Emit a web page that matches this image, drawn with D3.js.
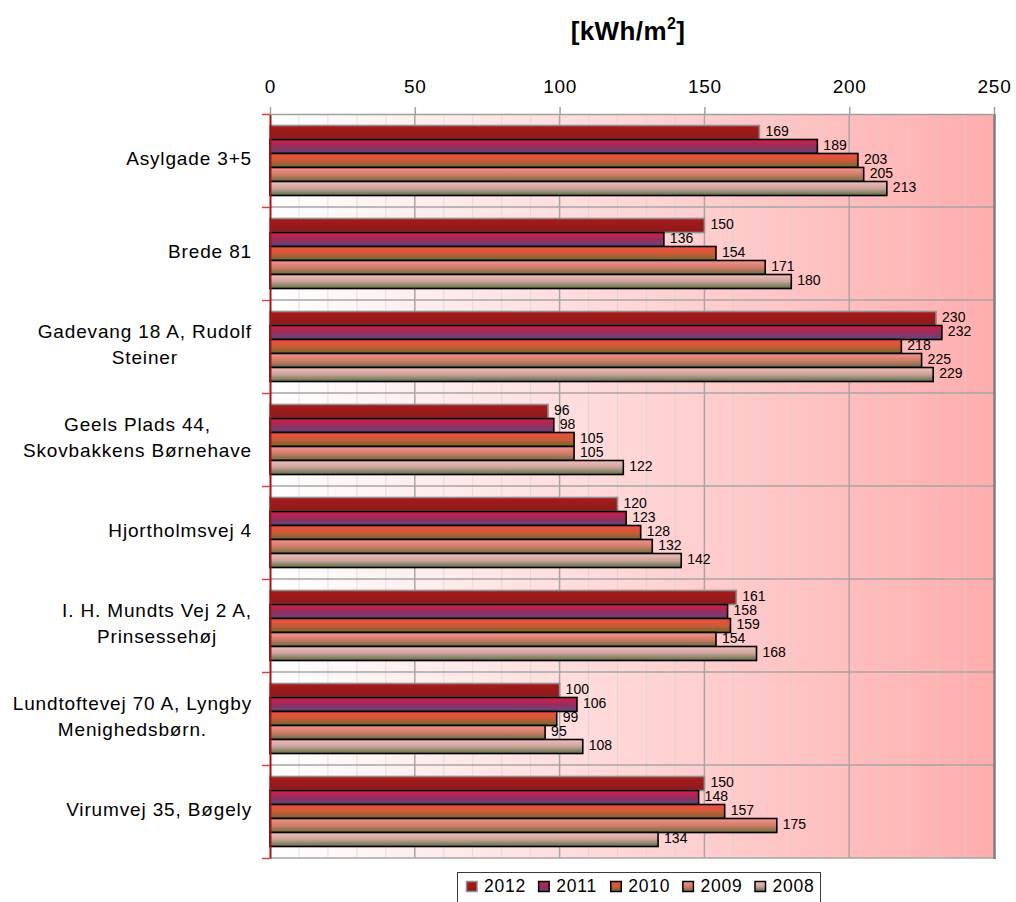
<!DOCTYPE html>
<html>
<head>
<meta charset="utf-8">
<script src="https://cdn.jsdelivr.net/npm/d3@7"></script>
<style>
  body { margin: 0; background: #ffffff; }
  svg { display: block; font-family: "Liberation Sans", Arial, Helvetica, sans-serif; }
</style>
</head>
<body>
<svg id="chart" width="1016" height="902"></svg>
<script>
// Buildings (label lines), newest year first as in the legend
const categories = [
  ["Asylgade 3+5"],
  ["Brede 81"],
  ["Gadevang 18 A, Rudolf", "Steiner"],
  ["Geels Plads 44,", "Skovbakkens Børnehave"],
  ["Hjortholmsvej 4"],
  ["I. H. Mundts Vej 2 A,", "Prinsessehøj"],
  ["Lundtoftevej 70 A, Lyngby", "Menighedsbørn."],
  ["Virumvej 35, Bøgely"]
];
const years = ["2012", "2011", "2010", "2009", "2008"];
const values2012 = [169, 150, 230, 96, 120, 161, 100, 150];
const values2011 = [189, 136, 232, 98, 123, 158, 106, 148];
const values2010 = [203, 154, 218, 105, 128, 159, 99, 157];
const values2009 = [205, 171, 225, 105, 132, 154, 95, 175];
const values2008 = [213, 180, 229, 122, 142, 168, 108, 134];
const xTicks = [0, 50, 100, 150, 200, 250];
const unitLabel = "[kWh/m";
const unitSup = "2";

const seriesValues = { "2012": values2012, "2011": values2011, "2010": values2010, "2009": values2009, "2008": values2008 };

// Gradient stops per year (top to bottom of each bar)
const barStops = {
  "2012": [["0", "#a8191a"], ["1", "#8b1b1c"]],
  "2011": [["0", "#d21f47"], ["0.5", "#9a2c5c"], ["1", "#5a4a7e"]],
  "2010": [["0", "#f44e3e"], ["0.5", "#cc5a38"], ["1", "#6b6a2c"]],
  "2009": [["0", "#f6958b"], ["0.5", "#cf7b6a"], ["1", "#6a6e3c"]],
  "2008": [["0", "#f5c0bc"], ["0.5", "#c9a29a"], ["1", "#5c6e44"]]
};
const barStroke = { "2012": "#8f8f8f", "2011": "#000", "2010": "#000", "2009": "#000", "2008": "#000" };

const svg = d3.select("#chart");
const defs = svg.append("defs");

const plot = { left: 270, right: 994, top: 114, bottom: 858 };

const x = d3.scaleLinear().domain([0, 250]).range([plot.left, plot.right]);
const y0 = d3.scaleBand().domain(d3.range(categories.length))
  .range([plot.top, plot.bottom]).paddingInner(0.247).paddingOuter(0.1235);
const y1 = d3.scaleBand().domain(years).range([0, y0.bandwidth()]);
const yEdge = d3.scaleLinear().domain([0, categories.length]).range([plot.top, plot.bottom]);

// Plot background: white to pink, left to right
const bg = defs.append("linearGradient").attr("id", "bgGrad")
  .attr("x1", 0).attr("y1", 0).attr("x2", 1).attr("y2", 0);
bg.append("stop").attr("offset", 0).attr("stop-color", "#ffffff");
bg.append("stop").attr("offset", 1).attr("stop-color", "#ffadad");

years.forEach(yr => {
  const g = defs.append("linearGradient").attr("id", "bar" + yr)
    .attr("x1", 0).attr("y1", 0).attr("x2", 0).attr("y2", 1);
  barStops[yr].forEach(s => g.append("stop").attr("offset", s[0]).attr("stop-color", s[1]));
});

svg.append("rect")
  .attr("x", plot.left).attr("y", plot.top)
  .attr("width", plot.right - plot.left).attr("height", plot.bottom - plot.top)
  .attr("fill", "url(#bgGrad)");

// Minor vertical gridlines every 10
const minor = d3.range(10, 250, 10).filter(v => v % 50 !== 0);
svg.append("g").selectAll("line").data(minor).join("line")
  .attr("x1", d => x(d)).attr("x2", d => x(d))
  .attr("y1", plot.top).attr("y2", plot.bottom)
  .attr("stroke", "#d2d2d2").attr("stroke-opacity", 0.65).attr("stroke-width", 1);

// Major vertical gridlines
svg.append("g").selectAll("line").data(xTicks.filter(v => v > 0 && v < 250)).join("line")
  .attr("x1", d => x(d)).attr("x2", d => x(d))
  .attr("y1", plot.top).attr("y2", plot.bottom)
  .attr("stroke", "#a6a6a6").attr("stroke-width", 1.5);

// Horizontal lines at category boundaries
svg.append("g").selectAll("line").data(d3.range(1, categories.length + 1)).join("line")
  .attr("x1", plot.left).attr("x2", plot.right)
  .attr("y1", d => yEdge(d)).attr("y2", d => yEdge(d))
  .attr("stroke", "#a6a6a6").attr("stroke-width", 1.5);

// Right frame edge
svg.append("line")
  .attr("x1", plot.right + 0.5).attr("x2", plot.right + 0.5)
  .attr("y1", plot.top).attr("y2", plot.bottom + 1)
  .attr("stroke", "#7f7f7f").attr("stroke-width", 2.5);

// Bars
const groups = svg.append("g").selectAll("g").data(categories).join("g")
  .attr("transform", (d, i) => `translate(0,${y0(i)})`);

groups.selectAll("rect")
  .data((d, i) => years.map(yr => ({ yr, v: seriesValues[yr][i] })))
  .join("rect")
  .attr("x", x(0))
  .attr("y", d => y1(d.yr))
  .attr("width", d => x(d.v) - x(0))
  .attr("height", y1.bandwidth())
  .attr("fill", d => `url(#bar${d.yr})`)
  .attr("stroke", d => barStroke[d.yr])
  .attr("stroke-width", 1.6);

// Left axis with ticks at category boundaries
const leftAxis = svg.append("g")
  .attr("transform", `translate(${plot.left},0)`)
  .call(d3.axisLeft(yEdge).tickValues(d3.range(categories.length + 1)).tickSize(8).tickSizeOuter(0).tickFormat(""));
leftAxis.select(".domain").attr("stroke", "#a31515").attr("stroke-width", 2);
leftAxis.selectAll(".tick line").attr("stroke", "#e03a3a").attr("stroke-width", 1.5);

// Top value axis
const topAxis = svg.append("g")
  .attr("transform", `translate(0,${plot.top})`)
  .call(d3.axisTop(x).tickValues(xTicks).tickSize(7).tickSizeOuter(0).tickPadding(14));
topAxis.select(".domain").attr("stroke", "#a0a0a0").attr("stroke-width", 1.5);
topAxis.selectAll(".tick line").attr("stroke", "#a0a0a0").attr("stroke-width", 1.5);
topAxis.selectAll(".tick text")
  .attr("fill", "#000")
  .style("font-family", '"Liberation Sans", Arial, sans-serif')
  .style("font-size", "19px")
  .style("letter-spacing", "0.7px");

// Value labels
groups.selectAll("text.val")
  .data((d, i) => years.map(yr => ({ yr, v: seriesValues[yr][i] })))
  .join("text")
  .attr("class", "val")
  .attr("x", d => x(d.v) + 6)
  .attr("y", d => y1(d.yr) + y1.bandwidth() / 2 + 3.5)
  .attr("font-size", "14px")
  .attr("fill", "#000")
  .text(d => d.v);

// Category labels: block right-aligned to the axis, lines centred within it
const labelRight = 252;
const lineGap = 26.7;
categories.forEach((lines, i) => {
  const c = y0(i) + y0.bandwidth() / 2;
  const g = svg.append("g");
  const t = g.selectAll("text").data(lines).join("text")
    .attr("font-size", "19px")
    .attr("letter-spacing", "0.85px")
    .attr("fill", "#000")
    .attr("text-anchor", "middle")
    .attr("y", (d, k) => c + 4.5 + (k - (lines.length - 1) / 2) * lineGap)
    .text(d => d);
  let maxW = 0;
  t.each(function () { maxW = Math.max(maxW, this.getComputedTextLength()); });
  t.attr("x", labelRight - maxW / 2);
});

// Unit title
const title = svg.append("text")
  .attr("x", 628).attr("y", 40)
  .attr("text-anchor", "middle")
  .attr("font-size", "26px").attr("font-weight", "bold")
  .attr("letter-spacing", "0.4px")
  .attr("fill", "#000");
title.append("tspan").text(unitLabel);
title.append("tspan").attr("font-size", "16px").attr("dy", "-11").text(unitSup);
title.append("tspan").attr("dy", "11").text("]");

// Legend
const legend = svg.append("g");
legend.append("rect")
  .attr("x", 457.5).attr("y", 872.5).attr("width", 363).attr("height", 40)
  .attr("fill", "#fff").attr("stroke", "#3a3a3a").attr("stroke-width", 1);
const legendX = d3.scalePoint().domain(years).range([466.5, 755]);
const items = legend.selectAll("g.item").data(years).join("g").attr("class", "item")
  .attr("transform", d => `translate(${legendX(d)},0)`);
items.append("rect")
  .attr("x", 0).attr("y", 881.5).attr("width", 10.5).attr("height", 10)
  .attr("fill", d => `url(#bar${d})`)
  .attr("stroke", d => barStroke[d]).attr("stroke-width", 1.5);
items.append("text")
  .attr("x", 17.5).attr("y", 892)
  .attr("font-size", "17.5px").attr("letter-spacing", "0.8px")
  .attr("fill", "#000")
  .text(d => d);
</script>
</body>
</html>
